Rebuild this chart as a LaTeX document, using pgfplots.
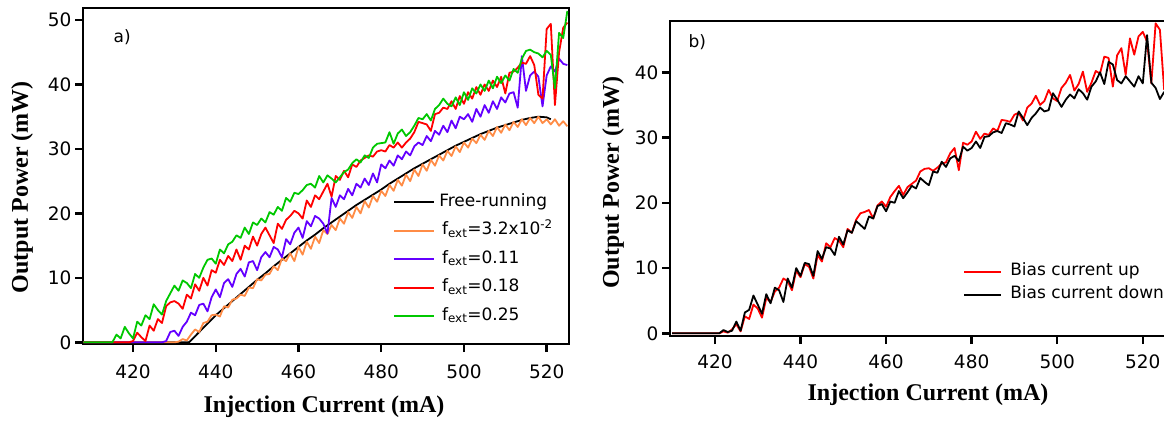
\documentclass[border=0pt]{standalone}
\usepackage{fontspec}
\setmainfont{DejaVu Sans}
\newfontfamily\serifbold{Liberation Serif}
\usepackage{pgfplots}
\pgfplotsset{compat=1.18}
\definecolor{cgreen}{RGB}{0,200,0}
\definecolor{cred}{RGB}{255,0,0}
\definecolor{cblue}{RGB}{100,0,255}
\definecolor{corange}{RGB}{255,140,70}
\pgfplotsset{myax/.style={
  scale only axis,
  axis line style={line width=2.5pt},
  tick style={line width=2.5pt, black},
  major tick length=8pt,
  tick align=outside,
  xtick pos=left, ytick pos=left,
  ticklabel style={font=\fontsize{18.5}{22}\selectfont},
  /pgf/number format/assume math mode=true,
  label style={font=\serifbold\bfseries\fontsize{24}{28}\selectfont},
  every axis plot/.append style={line width=1.8pt, line join=round},
  legend style={draw=none, fill=none, font=\fontsize{17}{20}\selectfont, inner sep=0pt,
    cells={anchor=west}, nodes={inner sep=0pt, text height=12pt, text depth=4pt}},
}}
\begin{document}
\begin{tikzpicture}
\useasboundingbox (0,0) rectangle (1164pt,421pt);
\clip (0,0) rectangle (1164pt,421pt);
% ---------------- panel a ----------------
\begin{axis}[myax,
  at={(83pt,77pt)}, anchor=south west,
  width=486pt, height=336pt,
  xmin=407.9, xmax=525.4, ymin=-0.26, ymax=51.86,
  xtick={420,440,...,520}, ytick={0,10,...,50},
  xticklabel style={yshift=-9pt},
  xlabel={Injection Current (mA)}, ylabel={Output Power (mW)},
  xlabel style={at={(axis description cs:0.496,0)}, anchor=center, yshift=-63pt},
  ylabel style={at={(axis description cs:-0.1255,0.467)}, anchor=center},
  legend style={at={(rel axis cs:0.638,0.446)}, anchor=north west, row sep=12.5pt, column sep=4pt},
  legend image code/.code={\draw[#1, line width=2pt] (0pt,0pt) -- (40pt,0pt);},
]
\addplot[black] coordinates {(408,0) (433.5,0) (434,0.3) (436,1.6) (438,2.9) (440,4.2) (442,5.3) (444,6.4) (446,7.5) (448,8.6) (450,9.7) (452,10.7) (454,11.8) (456,12.8) (458,13.8) (460,14.8) (462,15.8) (464,16.7) (466,17.7) (468,18.6) (470,19.5) (472,20.4) (474,21.3) (476,22.1) (478,22.9) (480,23.7) (482,24.6) (484,25.4) (486,26.2) (488,27.0) (490,27.7) (492,28.4) (494,29.1) (496,29.8) (498,30.5) (500,31.1) (502,31.7) (504,32.3) (506,32.8) (508,33.3) (510,33.7) (512,34.1) (514,34.5) (516,34.8) (518,35.0) (520,34.9) (521,34.6)};
\addlegendentry{Free-running}
\addplot[corange] coordinates {(408,0) (430,0) (431,0.1) (432,0.5) (433,0.3) (434,1.2) (435,2.0) (436,1.6) (437,3.0) (438,3.2) (439,4.2) (440,4.3) (441,4.0) (442,5.6) (443,5.4) (444,6.6) (445,6.8) (446,7.4) (447,7.2) (448,8.5) (449,8.4) (450,9.8) (451,9.6) (452,10.5) (453,10.6) (454,11.8) (455,11.2) (456,13.0) (457,12.6) (458,13.8) (459,12.6) (460,14.8) (461,13.6) (462,15.6) (463,14.5) (464,16.4) (465,15.4) (466,17.4) (467,16.8) (468,18.2) (469,17.4) (470,19.2) (471,18.4) (472,20.2) (473,19.3) (474,21.0) (475,20.0) (476,21.9) (477,20.9) (478,22.7) (479,21.8) (480,23.5) (481,22.7) (482,24.4) (483,23.5) (484,25.2) (485,24.3) (486,26.0) (487,25.0) (488,26.8) (489,25.8) (490,27.6) (491,26.6) (492,28.3) (493,27.4) (494,29.0) (495,28.2) (496,29.7) (497,28.9) (498,30.4) (499,29.5) (500,31.0) (501,30.2) (502,31.6) (503,30.9) (504,32.2) (505,31.4) (506,32.8) (507,32.0) (508,33.4) (509,32.5) (510,33.8) (511,32.9) (512,34.2) (513,33.4) (514,34.6) (515,33.7) (516,34.8) (517,34.0) (518,35.0) (519,34.0) (520,34.6) (521,33.8) (522,34.6) (523,33.6) (524,34.3) (525,33.5)};
\addlegendentry{\,f\textsubscript{ext}=3.2x10\textsuperscript{-2}}
\addplot[cblue] coordinates {(408,0) (427,0) (428,0.2) (429,1.6) (430,1.8) (431,1.0) (432,2.4) (433,3.2) (434,4.6) (435,4.2) (436,5.8) (437,6.0) (438,4.8) (439,7.0) (440,8.2) (441,7.0) (442,9.2) (443,9.8) (444,8.6) (445,10.6) (446,11.4) (447,10.2) (448,12.4) (449,12.6) (450,11.2) (451,13.2) (452,14.0) (453,13.2) (454,14.8) (455,14.4) (456,13.2) (457,16.0) (458,15.2) (459,17.0) (460,17.8) (461,16.2) (462,18.8) (463,18.0) (464,19.6) (465,19.2) (466,18.4) (467,16.9) (468,22.4) (469,21.0) (470,22.8) (471,22.2) (472,23.8) (473,22.8) (474,24.6) (475,24.0) (476,25.4) (477,24.4) (478,26.2) (479,24.8) (480,27.6) (481,27.0) (482,28.2) (483,27.4) (484,29.0) (485,28.4) (486,29.6) (487,29.0) (488,30.4) (489,31.0) (490,30.6) (491,32.0) (492,31.2) (493,32.8) (494,32.2) (495,33.6) (496,32.6) (497,34.4) (498,33.2) (499,35.0) (500,34.6) (501,35.4) (502,34.2) (503,36.2) (504,35.0) (505,36.8) (506,35.6) (507,37.4) (508,36.2) (509,38.0) (510,37.2) (511,38.6) (512,38.8) (513,36.4) (514,44.4) (515,39.0) (516,41.4) (517,42.0) (518,41.2) (519,36.6) (520,41.4) (521,42.8) (522,42.0) (523,44.0) (524,43.2) (525,43.0)};
\addlegendentry{\,f\textsubscript{ext}=0.11}
\addplot[cred] coordinates {(408,0) (419,0) (420,0.2) (421,1.5) (422,0.8) (423,0.2) (424,2.6) (425,1.8) (426,3.6) (427,3.0) (428,5.6) (429,6.2) (430,6.4) (431,6.0) (432,5.2) (433,7.4) (434,6.8) (435,9.0) (436,8.0) (437,10.0) (438,8.8) (439,11.2) (440,10.8) (441,12.8) (442,12.0) (443,13.4) (444,12.6) (445,14.4) (446,12.8) (447,15.0) (448,14.4) (449,16.4) (450,15.0) (451,16.8) (452,17.8) (453,16.6) (454,15.4) (455,18.4) (456,17.6) (457,19.0) (458,19.6) (459,20.4) (460,20.0) (461,19.2) (462,22.0) (463,21.0) (464,22.8) (465,22.2) (466,23.4) (467,24.6) (468,22.6) (469,25.8) (470,25.2) (471,26.6) (472,25.6) (473,27.6) (474,27.2) (475,28.2) (476,28.6) (477,29.0) (478,28.8) (479,29.6) (480,29.8) (481,29.6) (482,30.6) (483,30.2) (484,31.0) (485,30.2) (486,31.0) (487,31.6) (488,32.6) (489,34.2) (490,34.0) (491,33.8) (492,32.8) (493,35.4) (494,35.6) (495,36.4) (496,36.2) (497,37.4) (498,36.2) (499,38.2) (500,37.0) (501,38.8) (502,37.8) (503,39.6) (504,38.4) (505,40.0) (506,39.0) (507,40.6) (508,39.6) (509,41.2) (510,38.6) (511,41.8) (512,42.0) (513,42.6) (514,43.4) (515,43.2) (516,44.4) (517,43.0) (518,38.4) (519,37.8) (520,48.6) (521,49.4) (522,36.8) (523,45.0) (524,48.8) (525,49.6)};
\addlegendentry{\,f\textsubscript{ext}=0.18}
\addplot[cgreen] coordinates {(408,0) (415,0) (416,1.2) (417,0.6) (418,2.4) (419,1.4) (420,0.6) (421,3.2) (422,2.6) (423,4.2) (424,3.6) (425,5.9) (426,5.0) (427,4.3) (428,6.4) (429,7.6) (430,8.8) (431,8.0) (432,9.6) (433,9.2) (434,8.4) (435,10.6) (436,10.0) (437,11.6) (438,12.8) (439,13.0) (440,12.2) (441,14.4) (442,13.8) (443,15.2) (444,15.6) (445,16.6) (446,16.2) (447,17.8) (448,16.8) (449,18.6) (450,18.2) (451,19.2) (452,18.6) (453,20.2) (454,19.8) (455,21.0) (456,20.4) (457,22.4) (458,21.8) (459,23.2) (460,23.0) (461,23.6) (462,24.4) (463,24.6) (464,24.0) (465,25.8) (466,24.8) (467,25.9) (468,25.4) (469,24.8) (470,25.6) (471,26.4) (472,26.8) (473,27.8) (474,28.4) (475,27.9) (476,29.0) (477,28.6) (478,30.2) (479,30.8) (480,30.9) (481,31.0) (482,32.6) (483,30.8) (484,32.4) (485,33.0) (486,32.0) (487,32.6) (488,33.6) (489,34.8) (490,34.6) (491,35.4) (492,34.4) (493,36.2) (494,36.8) (495,37.8) (496,37.0) (497,36.6) (498,38.0) (499,36.8) (500,38.8) (501,37.6) (502,39.4) (503,38.6) (504,40.0) (505,39.0) (506,40.6) (507,39.4) (508,41.2) (509,40.2) (510,41.4) (511,40.6) (512,42.4) (513,41.8) (514,44.0) (515,45.2) (516,45.4) (517,45.0) (518,44.8) (519,44.2) (520,45.2) (521,44.6) (522,39.4) (523,48.0) (524,47.2) (525,51.4)};
\addlegendentry{\,f\textsubscript{ext}=0.25}
\node[anchor=west, font=\fontsize{17}{20}\selectfont] at (rel axis cs:0.056,0.914) {a)};
\end{axis}
% ---------------- panel b ----------------
\begin{axis}[myax,
  at={(670pt,85pt)}, anchor=south west,
  width=516pt, height=315pt,
  xmin=409.5, xmax=530.1, ymin=-0.41, ymax=47.86,
  xtick={420,440,...,520}, ytick={0,10,...,40},
  xticklabel style={yshift=-7pt},
  xlabel={Injection Current (mA)}, ylabel={Output Power (mW)},
  xlabel style={at={(axis description cs:0.5,0)}, anchor=center, yshift=-59pt},
  ylabel style={at={(axis description cs:-0.1105,0.486)}, anchor=center},
  legend style={at={(rel axis cs:0.568,0.23)}, anchor=north west, row sep=7pt, column sep=8pt},
  legend image code/.code={\draw[#1, line width=2pt] (0pt,0pt) -- (37pt,0pt);},
]
\addplot[cred] coordinates {(410,0) (421,0) (422,0.3) (423,0.1) (424,0.6) (425,1.4) (426,0.3) (427,2.6) (428,2.2) (429,4.4) (430,3.8) (431,2.4) (432,5.4) (433,4.8) (434,6.4) (435,7.0) (436,8.4) (437,8.0) (438,6.6) (439,9.6) (440,8.6) (441,10.6) (442,10.2) (443,8.4) (444,12.0) (445,11.0) (446,13.8) (447,13.2) (448,14.6) (449,14.2) (450,13.2) (451,16.0) (452,15.4) (453,17.4) (454,18.4) (455,18.6) (456,18.9) (457,17.6) (458,19.6) (459,20.2) (460,19.4) (461,20.9) (462,21.8) (463,22.6) (464,21.2) (465,22.4) (466,22.9) (467,23.4) (468,24.8) (469,25.2) (470,25.3) (471,24.9) (472,25.4) (473,26.0) (474,26.2) (475,27.6) (476,28.4) (477,25.0) (478,29.2) (479,28.9) (480,29.4) (481,30.9) (482,29.8) (483,30.6) (484,30.4) (485,31.4) (486,31.0) (487,32.7) (488,32.6) (489,32.4) (490,33.5) (491,33.8) (492,32.6) (493,34.6) (494,35.2) (495,36.4) (496,35.0) (497,35.6) (498,37.3) (499,36.0) (500,35.6) (501,37.6) (502,38.4) (503,39.6) (504,37.2) (505,38.2) (506,40.1) (507,37.0) (508,38.4) (509,40.2) (510,39.8) (511,42.4) (512,42.2) (513,37.8) (514,42.6) (515,43.7) (516,39.6) (517,45.2) (518,42.7) (519,45.5) (520,46.2) (521,44.7) (522,38.3) (523,47.5) (524,46.5) (525,37.3)};
\addlegendentry{Bias current up}
\addplot[black] coordinates {(410,0) (421,0) (422,0.5) (423,0.2) (424,0.4) (425,1.8) (426,0.4) (427,3.2) (428,3.6) (429,5.8) (430,4.4) (431,3.0) (432,6.0) (433,4.6) (434,7.0) (435,6.6) (436,4.8) (437,8.4) (438,7.0) (439,10.0) (440,8.8) (441,10.8) (442,10.6) (443,8.8) (444,12.6) (445,11.4) (446,13.2) (447,13.0) (448,12.0) (449,14.8) (450,13.6) (451,15.8) (452,15.4) (453,17.2) (454,16.6) (455,16.0) (456,17.9) (457,17.6) (458,19.5) (459,19.8) (460,18.7) (461,20.2) (462,20.0) (463,21.8) (464,20.7) (465,21.6) (466,22.6) (467,22.2) (468,23.8) (469,23.2) (470,22.7) (471,24.8) (472,24.6) (473,26.3) (474,25.5) (475,26.8) (476,27.2) (477,26.4) (478,28.6) (479,28.0) (480,28.4) (481,29.4) (482,28.4) (483,30.1) (484,30.2) (485,30.8) (486,31.0) (487,30.7) (488,32.2) (489,32.0) (490,31.7) (491,34.0) (492,33.0) (493,31.9) (494,33.0) (495,33.7) (496,34.6) (497,34.0) (498,34.2) (499,36.8) (500,35.8) (501,34.7) (502,35.8) (503,36.6) (504,36.0) (505,37.4) (506,36.8) (507,35.8) (508,37.8) (509,38.6) (510,40.0) (511,38.2) (512,41.6) (513,41.2) (514,38.8) (515,38.3) (516,39.4) (517,38.6) (518,37.8) (519,39.4) (520,38.3) (521,45.7) (522,38.4) (523,37.6) (524,35.9) (525,37.0)};
\addlegendentry{Bias current down}
\node[anchor=west, font=\fontsize{17}{20}\selectfont] at (rel axis cs:0.029,0.933) {b)};
\end{axis}
\end{tikzpicture}
\end{document}
